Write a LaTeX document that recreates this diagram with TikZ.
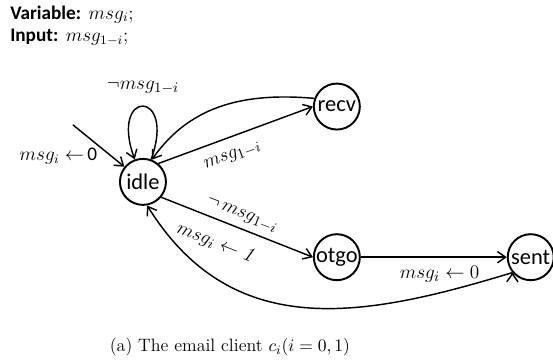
\documentclass[tikz,border=0pt]{standalone}
\usepackage{fontspec}
\newfontfamily\calibri{Carlito}
\usetikzlibrary{arrows.meta,
							calc,
							positioning}
\usepackage{amsmath,amssymb}

\begin{document}
\begin{tikzpicture}[
	node distance = 47pt and 121pt,
	on grid,
	   state/.style = {draw, circle, line width=1.2pt, minimum size=28.7pt,
									 inner sep=0pt, font=\calibri\fontsize{14}{16}\selectfont},
	   trans/.style = {font=\fontsize{13}{15}\selectfont, inner sep=1.5pt},
	  header/.style = {anchor=base west, inner sep=0pt,
									 font=\calibri\bfseries\fontsize{12}{14}\selectfont}]

\useasboundingbox (0,0) rectangle (345.1pt,224.6pt);

\node (var) [header] at (6.2pt,212.7pt) {Variable:~\,$msg_i;$};
\node (inp) [header] at (6.2pt,198.4pt) {Input:~\,$msg_{1-i};$};

\node (idle) [state] at (89.2pt,111.1pt) {idle};            % <-- start state
\node (recv) [state, above right=of idle] {recv};
\node (otgo) [state, below right=of idle] {otgo};
\node (sent) [state, right=of otgo]       {sent};

\coordinate (init) at ($(idle)+(-43.7pt,35.6pt)$);

\node (cap) at (143.5pt,8.1pt) {\fontsize{11.2}{13}\selectfont (a) The email client $c_i(i=0,1)$};

%%
\draw [arrows=-{Straight Barb[length=5pt,width=7pt]}, line width=0.9pt]
	(init) edge node[pos=0.4, below left=0pt, xshift=6pt, font=\fontsize{12}{14}\selectfont]
			{$msg_i\leftarrow$\,{\calibri 0}} (idle)
	(idle) edge[loop, out=70, in=110, min distance=47pt]
			node[trans, above=6pt] {$\neg msg_{1-i}$} (idle)
	(idle.50) edge node[trans, sloped, pos=0.44, below=6pt] {$msg_{1-i}$} (recv.west)
	(recv.160) edge[out=175, in=55] (idle.68)
	(idle.-40) edge node[trans, sloped, pos=0.5, above=2pt] {$\neg\,msg_{1-i}$}
			node[trans, sloped, pos=0.41, below=6.5pt] {$msg_i \leftarrow \mathit{1}$} (otgo.west)
	(otgo) edge node[trans, pos=0.54, below=3.5pt] {$msg_i \leftarrow 0$} (sent)
	(sent.220) edge[out=197, in=-58, looseness=1.1] (idle.280)
	;
\end{tikzpicture}
\end{document}
